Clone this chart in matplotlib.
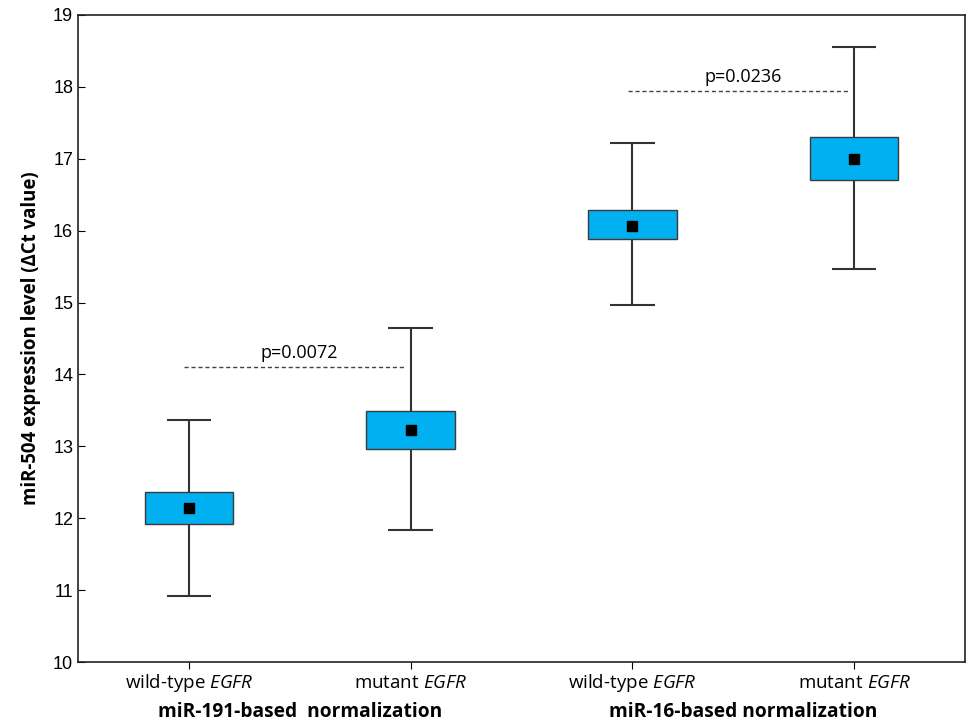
import matplotlib
matplotlib.use("Agg")
import matplotlib.pyplot as plt
import numpy as np

plt.rcParams['mathtext.fontset'] = 'custom'
plt.rcParams['mathtext.it'] = 'Open Sans:italic'
plt.rcParams['mathtext.rm'] = 'Open Sans'

# values (delta Ct)
groups = ["wild-type $\\it{EGFR}$", "mutant $\\it{EGFR}$", "wild-type $\\it{EGFR}$", "mutant $\\it{EGFR}$"]
means = [12.14, 13.23, 16.07, 17.00]
box_lo = [11.92, 12.97, 15.88, 16.71]
box_hi = [12.37, 13.49, 16.29, 17.30]
whisk_lo = [10.92, 11.83, 14.97, 15.47]
whisk_hi = [13.37, 14.65, 17.22, 18.56]
norm_labels = ["miR-191-based  normalization", "miR-16-based normalization"]
p_labels = ["p=0.0072", "p=0.0236"]
p_heights = [14.11, 17.94]
p_pairs = [(1, 2), (3, 4)]

x = np.arange(1, len(means) + 1)

fig = plt.figure(figsize=(9.7, 7.24), dpi=100)
ax = fig.add_axes([0.0804, 0.0856, 0.9144, 0.8937])

# whiskers + caps
ax.vlines(x, whisk_lo, whisk_hi, color="#333333", lw=1.5, zorder=1)
ax.hlines(whisk_lo, x - 0.1, x + 0.1, color="#333333", lw=1.5, zorder=1)
ax.hlines(whisk_hi, x - 0.1, x + 0.1, color="#333333", lw=1.5, zorder=1)

# boxes
heights = np.array(box_hi) - np.array(box_lo)
ax.bar(x, heights, bottom=box_lo, width=0.4, color="#00B0F0", edgecolor="#3a3a3a", lw=1.0, zorder=2)

# mean points
ax.plot(x, means, ls="none", marker="s", ms=7.5, color="black", zorder=3)

# significance lines
for (a, b), h, lab in zip(p_pairs, p_heights, p_labels):
    ax.plot([a - 0.02, b - 0.02], [h, h], ls=(0, (3, 2)), color="#444444", lw=1.0)
    ax.text((a + b) / 2, h + 0.07, lab, ha="center", va="bottom", fontsize=13, family="Open Sans")

ax.set_xlim(0.5, 4.5)
ax.set_ylim(10, 19)
ax.set_yticks(np.arange(10, 20, 1))
ax.set_xticks(x)
ax.set_xticklabels(groups, fontsize=13.5, family="Open Sans")
ax.tick_params(axis="y", direction="in", length=5, labelsize=13)
ax.tick_params(axis="x", direction="out", length=5, pad=14)
for lab in ax.get_yticklabels():
    lab.set_family("Liberation Sans")
for lab in ax.get_xticklabels():
    lab.set_va("baseline")

ax.set_ylabel("miR-504 expression level (ΔCt value)", fontsize=13.4, fontweight="bold", family="Open Sans", labelpad=9)

for i, t in enumerate(norm_labels):
    ax.text(1.5 + 2 * i, -0.077, t, transform=ax.get_xaxis_transform(), ha="center", va="center",
            fontsize=13.8, fontweight="bold", family="Open Sans")

for s in ax.spines.values():
    s.set_linewidth(1.2)
    s.set_color("#222222")

fig.savefig("out.png", dpi=100)
